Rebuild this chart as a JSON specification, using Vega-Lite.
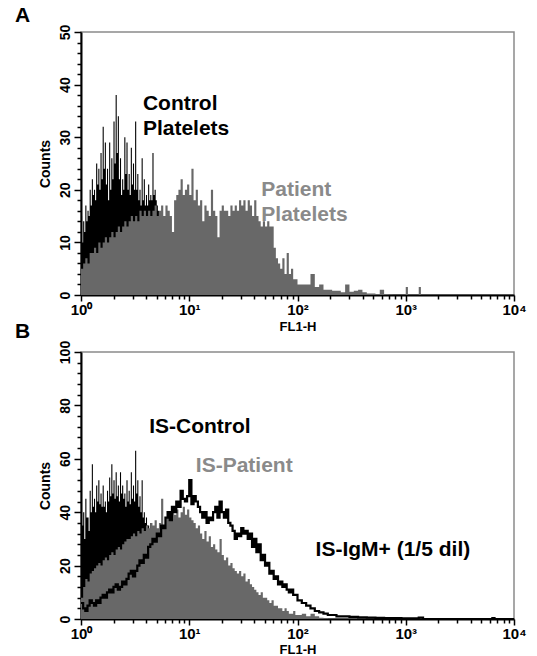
{
  "$schema": "https://vega.github.io/schema/vega-lite/v6.json",
  "padding": {"left": 14, "top": 4, "right": 0, "bottom": 0},
  "autosize": {"type": "pad"},
  "spacing": -14,
  "config": {
    "font": "Liberation Sans",
    "view": {"stroke": "#8a8a8a", "strokeWidth": 1.5},
    "axis": {"grid": false, "labelOverlap": false, "domainColor": "#000", "domainWidth": 2, "tickColor": "#000", "tickWidth": 1.5, "labelColor": "#000", "titleColor": "#000", "labelFontWeight": "bold", "titleFontWeight": "bold"},
    "title": {"fontSize": 21, "fontWeight": "bold", "color": "#000", "anchor": "start", "frame": "group"}
  },
  "datasets": {
    "aCtrl": [
      {"fl1": 1, "count": 15}, {"fl1": 1.023, "count": 10}, {"fl1": 1.047, "count": 14}, {"fl1": 1.072, "count": 12},
      {"fl1": 1.096, "count": 17}, {"fl1": 1.122, "count": 14}, {"fl1": 1.148, "count": 16}, {"fl1": 1.175, "count": 15},
      {"fl1": 1.202, "count": 20}, {"fl1": 1.23, "count": 17}, {"fl1": 1.259, "count": 22}, {"fl1": 1.288, "count": 19},
      {"fl1": 1.318, "count": 20}, {"fl1": 1.349, "count": 18}, {"fl1": 1.38, "count": 25}, {"fl1": 1.413, "count": 21},
      {"fl1": 1.445, "count": 24}, {"fl1": 1.479, "count": 20}, {"fl1": 1.514, "count": 27}, {"fl1": 1.549, "count": 22},
      {"fl1": 1.585, "count": 32}, {"fl1": 1.622, "count": 24}, {"fl1": 1.66, "count": 29}, {"fl1": 1.698, "count": 21},
      {"fl1": 1.738, "count": 24}, {"fl1": 1.778, "count": 18}, {"fl1": 1.82, "count": 29}, {"fl1": 1.862, "count": 20},
      {"fl1": 1.905, "count": 26}, {"fl1": 1.95, "count": 22}, {"fl1": 1.995, "count": 33}, {"fl1": 2.042, "count": 25},
      {"fl1": 2.089, "count": 38}, {"fl1": 2.138, "count": 27}, {"fl1": 2.188, "count": 34}, {"fl1": 2.239, "count": 22},
      {"fl1": 2.291, "count": 26}, {"fl1": 2.344, "count": 19}, {"fl1": 2.399, "count": 22}, {"fl1": 2.455, "count": 20},
      {"fl1": 2.512, "count": 30}, {"fl1": 2.57, "count": 23}, {"fl1": 2.63, "count": 29}, {"fl1": 2.692, "count": 20},
      {"fl1": 2.754, "count": 23}, {"fl1": 2.818, "count": 19}, {"fl1": 2.884, "count": 28}, {"fl1": 2.951, "count": 21},
      {"fl1": 3.02, "count": 25}, {"fl1": 3.09, "count": 20}, {"fl1": 3.162, "count": 33}, {"fl1": 3.236, "count": 20},
      {"fl1": 3.311, "count": 23}, {"fl1": 3.388, "count": 18}, {"fl1": 3.467, "count": 20}, {"fl1": 3.548, "count": 17},
      {"fl1": 3.631, "count": 26}, {"fl1": 3.715, "count": 18}, {"fl1": 3.802, "count": 22}, {"fl1": 3.89, "count": 17},
      {"fl1": 3.981, "count": 19}, {"fl1": 4.074, "count": 17}, {"fl1": 4.169, "count": 21}, {"fl1": 4.266, "count": 18},
      {"fl1": 4.365, "count": 19}, {"fl1": 4.467, "count": 18}, {"fl1": 4.571, "count": 27}, {"fl1": 4.677, "count": 19},
      {"fl1": 4.786, "count": 20}, {"fl1": 4.898, "count": 18}, {"fl1": 5.012, "count": 17}, {"fl1": 5.129, "count": 16},
      {"fl1": 5.248, "count": 15}, {"fl1": 5.37, "count": 0}
    ],
    "aPat": [
      {"fl1": 1, "count": 5}, {"fl1": 1.047, "count": 6}, {"fl1": 1.096, "count": 7}, {"fl1": 1.148, "count": 6},
      {"fl1": 1.202, "count": 8}, {"fl1": 1.259, "count": 8}, {"fl1": 1.318, "count": 9}, {"fl1": 1.38, "count": 8},
      {"fl1": 1.445, "count": 10}, {"fl1": 1.514, "count": 9}, {"fl1": 1.585, "count": 10}, {"fl1": 1.66, "count": 11},
      {"fl1": 1.738, "count": 10}, {"fl1": 1.82, "count": 11}, {"fl1": 1.905, "count": 12}, {"fl1": 1.995, "count": 11},
      {"fl1": 2.089, "count": 12}, {"fl1": 2.188, "count": 13}, {"fl1": 2.291, "count": 12}, {"fl1": 2.399, "count": 13},
      {"fl1": 2.512, "count": 14}, {"fl1": 2.63, "count": 13}, {"fl1": 2.754, "count": 14}, {"fl1": 2.884, "count": 15},
      {"fl1": 3.02, "count": 14}, {"fl1": 3.162, "count": 15}, {"fl1": 3.311, "count": 14}, {"fl1": 3.467, "count": 16},
      {"fl1": 3.631, "count": 15}, {"fl1": 3.802, "count": 16}, {"fl1": 3.981, "count": 15}, {"fl1": 4.169, "count": 16},
      {"fl1": 4.365, "count": 15}, {"fl1": 4.571, "count": 16}, {"fl1": 4.786, "count": 17}, {"fl1": 5.012, "count": 15},
      {"fl1": 5.248, "count": 16}, {"fl1": 5.495, "count": 17}, {"fl1": 5.754, "count": 15}, {"fl1": 6.026, "count": 17},
      {"fl1": 6.31, "count": 16}, {"fl1": 6.607, "count": 15}, {"fl1": 6.918, "count": 12}, {"fl1": 7.244, "count": 18},
      {"fl1": 7.586, "count": 19}, {"fl1": 7.943, "count": 20}, {"fl1": 8.318, "count": 22}, {"fl1": 8.71, "count": 19},
      {"fl1": 9.12, "count": 20}, {"fl1": 9.55, "count": 21}, {"fl1": 10, "count": 19}, {"fl1": 10.47, "count": 24},
      {"fl1": 10.96, "count": 18}, {"fl1": 11.48, "count": 20}, {"fl1": 12.02, "count": 17}, {"fl1": 12.59, "count": 18},
      {"fl1": 13.18, "count": 14}, {"fl1": 13.8, "count": 17}, {"fl1": 14.45, "count": 16}, {"fl1": 15.14, "count": 15},
      {"fl1": 15.85, "count": 20}, {"fl1": 16.6, "count": 16}, {"fl1": 17.38, "count": 15}, {"fl1": 18.2, "count": 11},
      {"fl1": 19.05, "count": 16}, {"fl1": 19.95, "count": 17}, {"fl1": 20.89, "count": 16}, {"fl1": 21.88, "count": 16},
      {"fl1": 22.91, "count": 15}, {"fl1": 23.99, "count": 17}, {"fl1": 25.12, "count": 16}, {"fl1": 26.3, "count": 17},
      {"fl1": 27.54, "count": 16}, {"fl1": 28.84, "count": 18}, {"fl1": 30.2, "count": 17}, {"fl1": 31.62, "count": 18},
      {"fl1": 33.11, "count": 16}, {"fl1": 34.67, "count": 18}, {"fl1": 36.31, "count": 17}, {"fl1": 38.02, "count": 15},
      {"fl1": 39.81, "count": 18}, {"fl1": 41.69, "count": 15}, {"fl1": 43.65, "count": 14}, {"fl1": 45.71, "count": 13},
      {"fl1": 47.86, "count": 14}, {"fl1": 50.12, "count": 13}, {"fl1": 52.48, "count": 14}, {"fl1": 54.95, "count": 13},
      {"fl1": 57.54, "count": 13}, {"fl1": 60.26, "count": 9}, {"fl1": 63.1, "count": 7}, {"fl1": 66.07, "count": 6},
      {"fl1": 69.18, "count": 5}, {"fl1": 72.44, "count": 7}, {"fl1": 75.86, "count": 4}, {"fl1": 79.43, "count": 8},
      {"fl1": 83.18, "count": 4}, {"fl1": 87.1, "count": 5}, {"fl1": 91.2, "count": 3}, {"fl1": 95.5, "count": 3},
      {"fl1": 100, "count": 2}, {"fl1": 109.6, "count": 2}, {"fl1": 120.2, "count": 2}, {"fl1": 131.8, "count": 4},
      {"fl1": 144.5, "count": 1.5}, {"fl1": 158.5, "count": 2}, {"fl1": 173.8, "count": 1}, {"fl1": 190.5, "count": 1},
      {"fl1": 208.9, "count": 0.8}, {"fl1": 229.1, "count": 0.8}, {"fl1": 251.2, "count": 0.5}, {"fl1": 275.4, "count": 2},
      {"fl1": 302, "count": 0.6}, {"fl1": 331.1, "count": 0.8}, {"fl1": 363.1, "count": 1}, {"fl1": 398.1, "count": 0.5},
      {"fl1": 436.5, "count": 0.3}, {"fl1": 478.6, "count": 0.3}, {"fl1": 524.8, "count": 0.2}, {"fl1": 575.4, "count": 1},
      {"fl1": 631, "count": 0.2}, {"fl1": 691.8, "count": 0.1}, {"fl1": 758.6, "count": 0}, {"fl1": 1000, "count": 1.5},
      {"fl1": 1047, "count": 0}, {"fl1": 1318, "count": 1.5}, {"fl1": 1380, "count": 0}, {"fl1": 10000, "count": 0}
    ],
    "bCtrl": [
      {"fl1": 1, "count": 55}, {"fl1": 1.023, "count": 35}, {"fl1": 1.047, "count": 40}, {"fl1": 1.072, "count": 30},
      {"fl1": 1.096, "count": 45}, {"fl1": 1.122, "count": 38}, {"fl1": 1.148, "count": 38}, {"fl1": 1.175, "count": 33},
      {"fl1": 1.202, "count": 48}, {"fl1": 1.23, "count": 40}, {"fl1": 1.259, "count": 58}, {"fl1": 1.288, "count": 42},
      {"fl1": 1.318, "count": 45}, {"fl1": 1.349, "count": 40}, {"fl1": 1.38, "count": 50}, {"fl1": 1.413, "count": 44},
      {"fl1": 1.445, "count": 52}, {"fl1": 1.479, "count": 43}, {"fl1": 1.514, "count": 47}, {"fl1": 1.549, "count": 42},
      {"fl1": 1.585, "count": 50}, {"fl1": 1.622, "count": 42}, {"fl1": 1.66, "count": 44}, {"fl1": 1.698, "count": 40},
      {"fl1": 1.738, "count": 48}, {"fl1": 1.778, "count": 44}, {"fl1": 1.82, "count": 53}, {"fl1": 1.862, "count": 46},
      {"fl1": 1.905, "count": 58}, {"fl1": 1.95, "count": 47}, {"fl1": 1.995, "count": 52}, {"fl1": 2.042, "count": 45},
      {"fl1": 2.089, "count": 55}, {"fl1": 2.138, "count": 46}, {"fl1": 2.188, "count": 50}, {"fl1": 2.239, "count": 44},
      {"fl1": 2.291, "count": 55}, {"fl1": 2.344, "count": 47}, {"fl1": 2.399, "count": 50}, {"fl1": 2.455, "count": 45},
      {"fl1": 2.512, "count": 47}, {"fl1": 2.57, "count": 42}, {"fl1": 2.63, "count": 52}, {"fl1": 2.692, "count": 44},
      {"fl1": 2.754, "count": 48}, {"fl1": 2.818, "count": 43}, {"fl1": 2.884, "count": 55}, {"fl1": 2.951, "count": 45},
      {"fl1": 3.02, "count": 50}, {"fl1": 3.09, "count": 44}, {"fl1": 3.162, "count": 63}, {"fl1": 3.236, "count": 47},
      {"fl1": 3.311, "count": 52}, {"fl1": 3.388, "count": 42}, {"fl1": 3.467, "count": 46}, {"fl1": 3.548, "count": 40},
      {"fl1": 3.631, "count": 52}, {"fl1": 3.715, "count": 38}, {"fl1": 3.802, "count": 40}, {"fl1": 3.89, "count": 36},
      {"fl1": 3.981, "count": 38}, {"fl1": 4.074, "count": 35}, {"fl1": 4.169, "count": 35}, {"fl1": 4.266, "count": 33},
      {"fl1": 4.365, "count": 36}, {"fl1": 4.467, "count": 33}, {"fl1": 4.571, "count": 34}, {"fl1": 4.677, "count": 32},
      {"fl1": 4.786, "count": 33}, {"fl1": 4.898, "count": 31}, {"fl1": 5.012, "count": 0}
    ],
    "bPat": [
      {"fl1": 1, "count": 8}, {"fl1": 1.047, "count": 12}, {"fl1": 1.096, "count": 15}, {"fl1": 1.148, "count": 14},
      {"fl1": 1.202, "count": 17}, {"fl1": 1.259, "count": 18}, {"fl1": 1.318, "count": 19}, {"fl1": 1.38, "count": 20},
      {"fl1": 1.445, "count": 21}, {"fl1": 1.514, "count": 20}, {"fl1": 1.585, "count": 22}, {"fl1": 1.66, "count": 23},
      {"fl1": 1.738, "count": 22}, {"fl1": 1.82, "count": 24}, {"fl1": 1.905, "count": 25}, {"fl1": 1.995, "count": 24},
      {"fl1": 2.089, "count": 26}, {"fl1": 2.188, "count": 27}, {"fl1": 2.291, "count": 26}, {"fl1": 2.399, "count": 28},
      {"fl1": 2.512, "count": 29}, {"fl1": 2.63, "count": 30}, {"fl1": 2.754, "count": 30}, {"fl1": 2.884, "count": 31},
      {"fl1": 3.02, "count": 32}, {"fl1": 3.162, "count": 31}, {"fl1": 3.311, "count": 33}, {"fl1": 3.467, "count": 32},
      {"fl1": 3.631, "count": 34}, {"fl1": 3.802, "count": 33}, {"fl1": 3.981, "count": 35}, {"fl1": 4.169, "count": 34},
      {"fl1": 4.365, "count": 36}, {"fl1": 4.571, "count": 35}, {"fl1": 4.786, "count": 37}, {"fl1": 5.012, "count": 34},
      {"fl1": 5.248, "count": 36}, {"fl1": 5.495, "count": 45}, {"fl1": 5.754, "count": 35}, {"fl1": 6.026, "count": 38},
      {"fl1": 6.31, "count": 40}, {"fl1": 6.607, "count": 37}, {"fl1": 6.918, "count": 40}, {"fl1": 7.244, "count": 39},
      {"fl1": 7.586, "count": 41}, {"fl1": 7.943, "count": 38}, {"fl1": 8.318, "count": 40}, {"fl1": 8.71, "count": 42},
      {"fl1": 9.12, "count": 39}, {"fl1": 9.55, "count": 41}, {"fl1": 10, "count": 38}, {"fl1": 10.47, "count": 37},
      {"fl1": 10.96, "count": 36}, {"fl1": 11.48, "count": 34}, {"fl1": 12.02, "count": 35}, {"fl1": 12.59, "count": 32},
      {"fl1": 13.18, "count": 30}, {"fl1": 13.8, "count": 33}, {"fl1": 14.45, "count": 29}, {"fl1": 15.14, "count": 31},
      {"fl1": 15.85, "count": 27}, {"fl1": 16.6, "count": 28}, {"fl1": 17.38, "count": 26}, {"fl1": 18.2, "count": 25},
      {"fl1": 19.05, "count": 30}, {"fl1": 19.95, "count": 24}, {"fl1": 20.89, "count": 22}, {"fl1": 21.88, "count": 23},
      {"fl1": 22.91, "count": 20}, {"fl1": 23.99, "count": 21}, {"fl1": 25.12, "count": 19}, {"fl1": 26.3, "count": 18},
      {"fl1": 27.54, "count": 17}, {"fl1": 28.84, "count": 18}, {"fl1": 30.2, "count": 16}, {"fl1": 31.62, "count": 17},
      {"fl1": 33.11, "count": 14}, {"fl1": 34.67, "count": 15}, {"fl1": 36.31, "count": 13}, {"fl1": 38.02, "count": 12},
      {"fl1": 39.81, "count": 11}, {"fl1": 41.69, "count": 10}, {"fl1": 43.65, "count": 9}, {"fl1": 45.71, "count": 10},
      {"fl1": 47.86, "count": 8}, {"fl1": 50.12, "count": 8}, {"fl1": 52.48, "count": 7}, {"fl1": 54.95, "count": 6},
      {"fl1": 57.54, "count": 7}, {"fl1": 60.26, "count": 5}, {"fl1": 63.1, "count": 5}, {"fl1": 66.07, "count": 4},
      {"fl1": 69.18, "count": 4}, {"fl1": 72.44, "count": 3}, {"fl1": 75.86, "count": 4}, {"fl1": 79.43, "count": 3},
      {"fl1": 83.18, "count": 2}, {"fl1": 87.1, "count": 2}, {"fl1": 91.2, "count": 3}, {"fl1": 95.5, "count": 1.5},
      {"fl1": 100, "count": 1.5}, {"fl1": 109.6, "count": 2}, {"fl1": 120.2, "count": 1}, {"fl1": 131.8, "count": 2},
      {"fl1": 144.5, "count": 1}, {"fl1": 158.5, "count": 0.5}, {"fl1": 173.8, "count": 0.3}, {"fl1": 190.5, "count": 0},
      {"fl1": 10000, "count": 0}
    ],
    "bIgm": [
      {"fl1": 1, "count": 6}, {"fl1": 1.047, "count": 4}, {"fl1": 1.096, "count": 3}, {"fl1": 1.148, "count": 5},
      {"fl1": 1.202, "count": 7}, {"fl1": 1.259, "count": 6}, {"fl1": 1.318, "count": 5}, {"fl1": 1.38, "count": 7},
      {"fl1": 1.445, "count": 6}, {"fl1": 1.514, "count": 8}, {"fl1": 1.585, "count": 9}, {"fl1": 1.66, "count": 8},
      {"fl1": 1.738, "count": 10}, {"fl1": 1.82, "count": 11}, {"fl1": 1.905, "count": 10}, {"fl1": 1.995, "count": 12},
      {"fl1": 2.089, "count": 13}, {"fl1": 2.188, "count": 11}, {"fl1": 2.291, "count": 12}, {"fl1": 2.399, "count": 14},
      {"fl1": 2.512, "count": 13}, {"fl1": 2.63, "count": 15}, {"fl1": 2.754, "count": 17}, {"fl1": 2.884, "count": 18},
      {"fl1": 3.02, "count": 16}, {"fl1": 3.162, "count": 18}, {"fl1": 3.311, "count": 20}, {"fl1": 3.467, "count": 22},
      {"fl1": 3.631, "count": 21}, {"fl1": 3.802, "count": 24}, {"fl1": 3.981, "count": 23}, {"fl1": 4.169, "count": 27},
      {"fl1": 4.365, "count": 28}, {"fl1": 4.571, "count": 30}, {"fl1": 4.786, "count": 29}, {"fl1": 5.012, "count": 32},
      {"fl1": 5.248, "count": 31}, {"fl1": 5.495, "count": 35}, {"fl1": 5.754, "count": 34}, {"fl1": 6.026, "count": 38},
      {"fl1": 6.31, "count": 40}, {"fl1": 6.607, "count": 37}, {"fl1": 6.918, "count": 42}, {"fl1": 7.244, "count": 40},
      {"fl1": 7.586, "count": 44}, {"fl1": 7.943, "count": 42}, {"fl1": 8.318, "count": 48}, {"fl1": 8.71, "count": 45},
      {"fl1": 9.12, "count": 44}, {"fl1": 9.55, "count": 46}, {"fl1": 10, "count": 52}, {"fl1": 10.47, "count": 43},
      {"fl1": 10.96, "count": 46}, {"fl1": 11.48, "count": 44}, {"fl1": 12.02, "count": 42}, {"fl1": 12.59, "count": 40},
      {"fl1": 13.18, "count": 38}, {"fl1": 13.8, "count": 40}, {"fl1": 14.45, "count": 36}, {"fl1": 15.14, "count": 38},
      {"fl1": 15.85, "count": 37}, {"fl1": 16.6, "count": 40}, {"fl1": 17.38, "count": 42}, {"fl1": 18.2, "count": 38},
      {"fl1": 19.05, "count": 44}, {"fl1": 19.95, "count": 40}, {"fl1": 20.89, "count": 38}, {"fl1": 21.88, "count": 41},
      {"fl1": 22.91, "count": 36}, {"fl1": 23.99, "count": 35}, {"fl1": 25.12, "count": 33}, {"fl1": 26.3, "count": 30},
      {"fl1": 27.54, "count": 32}, {"fl1": 28.84, "count": 31}, {"fl1": 30.2, "count": 34}, {"fl1": 31.62, "count": 32},
      {"fl1": 33.11, "count": 33}, {"fl1": 34.67, "count": 30}, {"fl1": 36.31, "count": 32}, {"fl1": 38.02, "count": 27},
      {"fl1": 39.81, "count": 30}, {"fl1": 41.69, "count": 25}, {"fl1": 43.65, "count": 28}, {"fl1": 45.71, "count": 22},
      {"fl1": 47.86, "count": 24}, {"fl1": 50.12, "count": 20}, {"fl1": 52.48, "count": 21}, {"fl1": 54.95, "count": 17},
      {"fl1": 57.54, "count": 18}, {"fl1": 60.26, "count": 15}, {"fl1": 63.1, "count": 16}, {"fl1": 66.07, "count": 13},
      {"fl1": 69.18, "count": 14}, {"fl1": 72.44, "count": 12}, {"fl1": 75.86, "count": 13}, {"fl1": 79.43, "count": 11},
      {"fl1": 83.18, "count": 10}, {"fl1": 87.1, "count": 11}, {"fl1": 91.2, "count": 9}, {"fl1": 95.5, "count": 9},
      {"fl1": 100, "count": 7}, {"fl1": 109.6, "count": 6}, {"fl1": 120.2, "count": 5}, {"fl1": 131.8, "count": 4},
      {"fl1": 144.5, "count": 3}, {"fl1": 158.5, "count": 2.5}, {"fl1": 173.8, "count": 2}, {"fl1": 190.5, "count": 1.5},
      {"fl1": 208.9, "count": 1.5}, {"fl1": 229.1, "count": 1}, {"fl1": 251.2, "count": 1}, {"fl1": 302, "count": 0.8},
      {"fl1": 363.1, "count": 0.6}, {"fl1": 436.5, "count": 0.5}, {"fl1": 524.8, "count": 0.4}, {"fl1": 631, "count": 0.3},
      {"fl1": 758.6, "count": 0.3}, {"fl1": 912, "count": 0.2}, {"fl1": 1096, "count": 0.2}, {"fl1": 1318, "count": 0.5},
      {"fl1": 1445, "count": 0}, {"fl1": 6310, "count": 0.3}, {"fl1": 6607, "count": 0}, {"fl1": 10000, "count": 0}
    ]
  },
  "vconcat": [
    {
      "width": 433,
      "height": 263,
      "title": {"text": "A", "dx": -66, "offset": -2},
      "layer": [
        {
          "encoding": {
            "x": {"field": "fl1", "type": "quantitative",
              "scale": {"type": "log", "domain": [1, 10000], "nice": false},
              "axis": {"title": "FL1-H", "values": [1,2,3,4,5,6,7,8,9,10,20,30,40,50,60,70,80,90,100,200,300,400,500,600,700,800,900,1000,2000,3000,4000,5000,6000,7000,8000,9000,10000],
                "labelExpr": "datum.value === 1 ? '10⁰' : datum.value === 10 ? '10¹' : datum.value === 100 ? '10²' : datum.value === 1000 ? '10³' : datum.value === 10000 ? '10⁴' : ''",
                "tickSize": {"condition": {"test": "indexof([1,10,100,1000,10000], datum.value) >= 0", "value": 6}, "value": 4},
                "labelOverlap": false, "labelFontSize": 15, "labelPadding": 1, "titleFontSize": 13, "titlePadding": 3, "labelFlush": false}},
            "y": {"field": "count", "type": "quantitative",
              "scale": {"domain": [0, 50], "nice": false},
              "axis": {"title": "Counts", "values": [0,2,4,6,8,10,12,14,16,18,20,22,24,26,28,30,32,34,36,38,40,42,44,46,48,50],
                "labelExpr": "datum.value % 10 === 0 ? datum.label : ''",
                "tickSize": {"condition": {"test": "datum.value % 10 === 0", "value": 7}, "value": 4},
                "labelFontSize": {"condition": {"test": "datum.value % 10 === 0", "value": 14}, "value": 0},
                "labelOverlap": false, "labelBound": false,
                "labelAngle": 270, "labelAlign": "center", "labelBaseline": "bottom",
                "labelPadding": 2, "titleFontSize": 14, "titlePadding": 6}}
          },
          "layer": [
            {"data": {"name": "aCtrl"}, "mark": {"type": "area", "interpolate": "step-after", "color": "#000000"}},
            {"data": {"name": "aPat"}, "mark": {"type": "area", "interpolate": "step-after", "color": "#686868"}}
          ]
        },
        {
          "data": {"values": [{"label": "Control Platelets"}]},
          "mark": {"type": "text", "text": ["Control", "Platelets"], "align": "left", "baseline": "top", "fontSize": 21, "fontWeight": "bold", "lineHeight": 25, "color": "#000000"},
          "encoding": {
            "x": {"datum": 3.73, "type": "quantitative",
              "scale": {"type": "log", "domain": [1, 10000], "nice": false},
              "axis": {"title": "FL1-H", "values": [1,2,3,4,5,6,7,8,9,10,20,30,40,50,60,70,80,90,100,200,300,400,500,600,700,800,900,1000,2000,3000,4000,5000,6000,7000,8000,9000,10000],
                "labelExpr": "datum.value === 1 ? '10⁰' : datum.value === 10 ? '10¹' : datum.value === 100 ? '10²' : datum.value === 1000 ? '10³' : datum.value === 10000 ? '10⁴' : ''",
                "tickSize": {"condition": {"test": "indexof([1,10,100,1000,10000], datum.value) >= 0", "value": 6}, "value": 4},
                "labelOverlap": false, "labelFontSize": 15, "labelPadding": 1, "titleFontSize": 13, "titlePadding": 3, "labelFlush": false}},
            "y": {"datum": 38.4, "type": "quantitative",
              "scale": {"domain": [0, 50], "nice": false},
              "axis": {"title": "Counts", "values": [0,2,4,6,8,10,12,14,16,18,20,22,24,26,28,30,32,34,36,38,40,42,44,46,48,50],
                "labelExpr": "datum.value % 10 === 0 ? datum.label : ''",
                "tickSize": {"condition": {"test": "datum.value % 10 === 0", "value": 7}, "value": 4},
                "labelFontSize": {"condition": {"test": "datum.value % 10 === 0", "value": 14}, "value": 0},
                "labelOverlap": false, "labelBound": false,
                "labelAngle": 270, "labelAlign": "center", "labelBaseline": "bottom",
                "labelPadding": 2, "titleFontSize": 14, "titlePadding": 6}}
          }
        },
        {
          "data": {"values": [{"label": "Patient Platelets"}]},
          "mark": {"type": "text", "text": ["Patient", "Platelets"], "align": "left", "baseline": "top", "fontSize": 21, "fontWeight": "bold", "lineHeight": 25, "color": "#8a8a8a"},
          "encoding": {
            "x": {"datum": 46.3, "type": "quantitative",
              "scale": {"type": "log", "domain": [1, 10000], "nice": false},
              "axis": {"title": "FL1-H", "values": [1,2,3,4,5,6,7,8,9,10,20,30,40,50,60,70,80,90,100,200,300,400,500,600,700,800,900,1000,2000,3000,4000,5000,6000,7000,8000,9000,10000],
                "labelExpr": "datum.value === 1 ? '10⁰' : datum.value === 10 ? '10¹' : datum.value === 100 ? '10²' : datum.value === 1000 ? '10³' : datum.value === 10000 ? '10⁴' : ''",
                "tickSize": {"condition": {"test": "indexof([1,10,100,1000,10000], datum.value) >= 0", "value": 6}, "value": 4},
                "labelOverlap": false, "labelFontSize": 15, "labelPadding": 1, "titleFontSize": 13, "titlePadding": 3, "labelFlush": false}},
            "y": {"datum": 22.1, "type": "quantitative",
              "scale": {"domain": [0, 50], "nice": false},
              "axis": {"title": "Counts", "values": [0,2,4,6,8,10,12,14,16,18,20,22,24,26,28,30,32,34,36,38,40,42,44,46,48,50],
                "labelExpr": "datum.value % 10 === 0 ? datum.label : ''",
                "tickSize": {"condition": {"test": "datum.value % 10 === 0", "value": 7}, "value": 4},
                "labelFontSize": {"condition": {"test": "datum.value % 10 === 0", "value": 14}, "value": 0},
                "labelOverlap": false, "labelBound": false,
                "labelAngle": 270, "labelAlign": "center", "labelBaseline": "bottom",
                "labelPadding": 2, "titleFontSize": 14, "titlePadding": 6}}
          }
        }
      ]
    },
    {
      "width": 433,
      "height": 267,
      "title": {"text": "B", "dx": -66, "offset": -2},
      "layer": [
        {
          "encoding": {
            "x": {"field": "fl1", "type": "quantitative",
              "scale": {"type": "log", "domain": [1, 10000], "nice": false},
              "axis": {"title": "FL1-H", "values": [1,2,3,4,5,6,7,8,9,10,20,30,40,50,60,70,80,90,100,200,300,400,500,600,700,800,900,1000,2000,3000,4000,5000,6000,7000,8000,9000,10000],
                "labelExpr": "datum.value === 1 ? '10⁰' : datum.value === 10 ? '10¹' : datum.value === 100 ? '10²' : datum.value === 1000 ? '10³' : datum.value === 10000 ? '10⁴' : ''",
                "tickSize": {"condition": {"test": "indexof([1,10,100,1000,10000], datum.value) >= 0", "value": 6}, "value": 4},
                "labelOverlap": false, "labelFontSize": 15, "labelPadding": 1, "titleFontSize": 13, "titlePadding": 2, "labelFlush": false}},
            "y": {"field": "count", "type": "quantitative",
              "scale": {"domain": [0, 100], "nice": false},
              "axis": {"title": "Counts", "values": [0,4,8,12,16,20,24,28,32,36,40,44,48,52,56,60,64,68,72,76,80,84,88,92,96,100],
                "labelExpr": "datum.value % 20 === 0 ? datum.label : ''",
                "tickSize": {"condition": {"test": "datum.value % 20 === 0", "value": 7}, "value": 4},
                "labelFontSize": {"condition": {"test": "datum.value % 20 === 0", "value": 14}, "value": 0},
                "labelOverlap": false, "labelBound": false,
                "labelAngle": 270, "labelAlign": "center", "labelBaseline": "bottom",
                "labelPadding": 2, "titleFontSize": 14, "titlePadding": 6}}
          },
          "layer": [
            {"data": {"name": "bCtrl"}, "mark": {"type": "area", "interpolate": "step-after", "color": "#000000"}},
            {"data": {"name": "bPat"}, "mark": {"type": "area", "interpolate": "step-after", "color": "#686868"}},
            {"data": {"name": "bIgm"}, "mark": {"type": "line", "interpolate": "step-after", "color": "#000000", "strokeWidth": 2.2}}
          ]
        },
        {
          "data": {"values": [{"label": "IS-Control"}]},
          "mark": {"type": "text", "align": "left", "baseline": "middle", "fontSize": 21, "fontWeight": "bold", "color": "#000000"},
          "encoding": {
            "text": {"field": "label"},
            "x": {"datum": 4.26, "type": "quantitative",
              "scale": {"type": "log", "domain": [1, 10000], "nice": false},
              "axis": {"title": "FL1-H", "values": [1,2,3,4,5,6,7,8,9,10,20,30,40,50,60,70,80,90,100,200,300,400,500,600,700,800,900,1000,2000,3000,4000,5000,6000,7000,8000,9000,10000],
                "labelExpr": "datum.value === 1 ? '10⁰' : datum.value === 10 ? '10¹' : datum.value === 100 ? '10²' : datum.value === 1000 ? '10³' : datum.value === 10000 ? '10⁴' : ''",
                "tickSize": {"condition": {"test": "indexof([1,10,100,1000,10000], datum.value) >= 0", "value": 6}, "value": 4},
                "labelOverlap": false, "labelFontSize": 15, "labelPadding": 1, "titleFontSize": 13, "titlePadding": 2, "labelFlush": false}},
            "y": {"datum": 72, "type": "quantitative",
              "scale": {"domain": [0, 100], "nice": false},
              "axis": {"title": "Counts", "values": [0,4,8,12,16,20,24,28,32,36,40,44,48,52,56,60,64,68,72,76,80,84,88,92,96,100],
                "labelExpr": "datum.value % 20 === 0 ? datum.label : ''",
                "tickSize": {"condition": {"test": "datum.value % 20 === 0", "value": 7}, "value": 4},
                "labelFontSize": {"condition": {"test": "datum.value % 20 === 0", "value": 14}, "value": 0},
                "labelOverlap": false, "labelBound": false,
                "labelAngle": 270, "labelAlign": "center", "labelBaseline": "bottom",
                "labelPadding": 2, "titleFontSize": 14, "titlePadding": 6}}
          }
        },
        {
          "data": {"values": [{"label": "IS-Patient"}]},
          "mark": {"type": "text", "align": "left", "baseline": "middle", "fontSize": 21, "fontWeight": "bold", "color": "#8a8a8a"},
          "encoding": {
            "text": {"field": "label"},
            "x": {"datum": 11.5, "type": "quantitative",
              "scale": {"type": "log", "domain": [1, 10000], "nice": false},
              "axis": {"title": "FL1-H", "values": [1,2,3,4,5,6,7,8,9,10,20,30,40,50,60,70,80,90,100,200,300,400,500,600,700,800,900,1000,2000,3000,4000,5000,6000,7000,8000,9000,10000],
                "labelExpr": "datum.value === 1 ? '10⁰' : datum.value === 10 ? '10¹' : datum.value === 100 ? '10²' : datum.value === 1000 ? '10³' : datum.value === 10000 ? '10⁴' : ''",
                "tickSize": {"condition": {"test": "indexof([1,10,100,1000,10000], datum.value) >= 0", "value": 6}, "value": 4},
                "labelOverlap": false, "labelFontSize": 15, "labelPadding": 1, "titleFontSize": 13, "titlePadding": 2, "labelFlush": false}},
            "y": {"datum": 57.3, "type": "quantitative",
              "scale": {"domain": [0, 100], "nice": false},
              "axis": {"title": "Counts", "values": [0,4,8,12,16,20,24,28,32,36,40,44,48,52,56,60,64,68,72,76,80,84,88,92,96,100],
                "labelExpr": "datum.value % 20 === 0 ? datum.label : ''",
                "tickSize": {"condition": {"test": "datum.value % 20 === 0", "value": 7}, "value": 4},
                "labelFontSize": {"condition": {"test": "datum.value % 20 === 0", "value": 14}, "value": 0},
                "labelOverlap": false, "labelBound": false,
                "labelAngle": 270, "labelAlign": "center", "labelBaseline": "bottom",
                "labelPadding": 2, "titleFontSize": 14, "titlePadding": 6}}
          }
        },
        {
          "data": {"values": [{"label": "IS-IgM+ (1/5 dil)"}]},
          "mark": {"type": "text", "align": "left", "baseline": "middle", "fontSize": 21, "fontWeight": "bold", "color": "#000000"},
          "encoding": {
            "text": {"field": "label"},
            "x": {"datum": 147, "type": "quantitative",
              "scale": {"type": "log", "domain": [1, 10000], "nice": false},
              "axis": {"title": "FL1-H", "values": [1,2,3,4,5,6,7,8,9,10,20,30,40,50,60,70,80,90,100,200,300,400,500,600,700,800,900,1000,2000,3000,4000,5000,6000,7000,8000,9000,10000],
                "labelExpr": "datum.value === 1 ? '10⁰' : datum.value === 10 ? '10¹' : datum.value === 100 ? '10²' : datum.value === 1000 ? '10³' : datum.value === 10000 ? '10⁴' : ''",
                "tickSize": {"condition": {"test": "indexof([1,10,100,1000,10000], datum.value) >= 0", "value": 6}, "value": 4},
                "labelOverlap": false, "labelFontSize": 15, "labelPadding": 1, "titleFontSize": 13, "titlePadding": 2, "labelFlush": false}},
            "y": {"datum": 26, "type": "quantitative",
              "scale": {"domain": [0, 100], "nice": false},
              "axis": {"title": "Counts", "values": [0,4,8,12,16,20,24,28,32,36,40,44,48,52,56,60,64,68,72,76,80,84,88,92,96,100],
                "labelExpr": "datum.value % 20 === 0 ? datum.label : ''",
                "tickSize": {"condition": {"test": "datum.value % 20 === 0", "value": 7}, "value": 4},
                "labelFontSize": {"condition": {"test": "datum.value % 20 === 0", "value": 14}, "value": 0},
                "labelOverlap": false, "labelBound": false,
                "labelAngle": 270, "labelAlign": "center", "labelBaseline": "bottom",
                "labelPadding": 2, "titleFontSize": 14, "titlePadding": 6}}
          }
        }
      ]
    }
  ]
}
